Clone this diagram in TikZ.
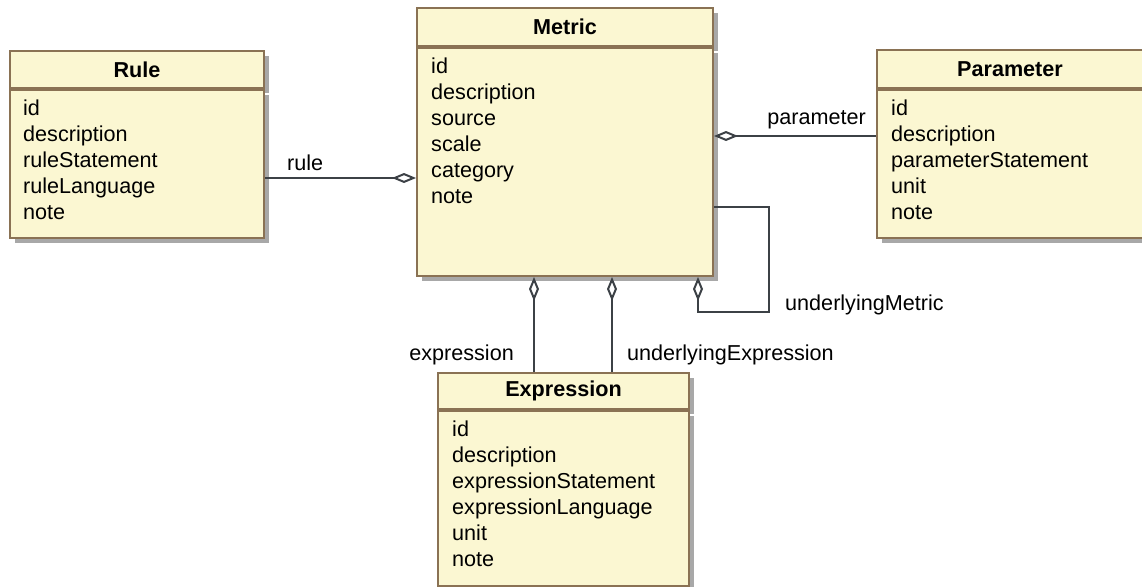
\documentclass[tikz,border=0pt]{standalone}
\usepackage{fontspec}
\setmainfont{Liberation Sans}
\usepackage{tikz}
\usetikzlibrary{arrows.meta,positioning,shadows}
\definecolor{classfill}{HTML}{FBF7D2}
\definecolor{classline}{HTML}{8A7254}
\definecolor{classshadow}{HTML}{A8A8A8}
\definecolor{assocline}{HTML}{3C4146}
\tikzstyle{classname} = [rectangle, anchor=north west, draw=classline, fill=classfill, line width=2pt, minimum height=37pt, inner sep=0pt, font=\fontsize{21.6}{26}\selectfont\bfseries, drop shadow={shadow xshift=5pt, shadow yshift=-5pt, fill=classshadow, opacity=1}]
\tikzstyle{classbody} = [rectangle, draw=classline, fill=classfill, line width=2pt, inner sep=0pt, drop shadow={shadow xshift=5pt, shadow yshift=-5pt, fill=classshadow, opacity=1}]
\tikzstyle{attrs} = [anchor=north west, align=left, inner sep=0pt, font=\fontsize{21.6}{26}\selectfont]
\tikzstyle{role} = [inner sep=0pt, font=\fontsize{21.6}{26}\selectfont]
\tikzstyle{assoc} = [line width=2.6pt, draw=assocline, {Diamond[length=24pt,width=10pt,fill=white,line width=2pt]}-]

\begin{document}
\begin{tikzpicture}[x=1pt, y=1pt]
\useasboundingbox (0,0) rectangle (1142,-586);

% classes
\node (metric) [classname, minimum width=296pt, minimum height=38pt] at (416,-7) {Metric};
\node (metric_body) [classbody, minimum width=296pt, minimum height=228pt, below=0pt of metric] {};
\node (metric_attr) [attrs] at ([xshift=15pt,yshift=-11pt]metric_body.north west) {id\\description\\source\\scale\\category\\note};

\node (rule) [classname, minimum width=254pt] at (9,-50) {Rule};
\node (rule_body) [classbody, minimum width=254pt, minimum height=148pt, below=0pt of rule] {};
\node (rule_attr) [attrs] at ([xshift=14pt,yshift=-11pt]rule_body.north west) {id\\description\\ruleStatement\\ruleLanguage\\note};

\node (parameter) [classname, minimum width=276pt, minimum height=38pt] at (876,-49) {\hspace*{-10pt}Parameter};
\node (parameter_body) [classbody, minimum width=276pt, minimum height=148pt, below=0pt of parameter] {};
\node (parameter_attr) [attrs] at ([xshift=15pt,yshift=-11pt]parameter_body.north west) {id\\description\\parameterStatement\\unit\\note};

\node (expression) [classname, minimum width=251pt, minimum height=36pt] at (437,-372) {Expression};
\node (expression_body) [classbody, minimum width=251pt, minimum height=175pt, below=0pt of expression] {};
\node (expression_attr) [attrs] at ([xshift=15pt,yshift=-11pt]expression_body.north west) {id\\description\\expressionStatement\\expressionLanguage\\unit\\note};

% associations
\coordinate (rule_end) at ([yshift=-14pt]rule_body.east);
\draw [assoc] (metric_body.west |- rule_end) -- (rule_end);
\node [role, anchor=base west] at ([xshift=22pt,yshift=8pt]rule_end) {rule};

\coordinate (parameter_end) at ([yshift=28pt]parameter_body.west);
\draw [assoc] (metric_body.east |- parameter_end) -- (parameter_end);
\node [role, anchor=base east] at ([xshift=-10pt,yshift=11.5pt]parameter_end) {parameter};

\coordinate (expr_end) at ([xshift=-29.5pt]expression.north);
\draw [assoc] (metric_body.south -| expr_end) -- (expr_end);
\node [role, anchor=base east] at ([xshift=-20pt,yshift=12pt]expr_end) {expression};

\coordinate (uexpr_end) at ([xshift=48.5pt]expression.north);
\draw [assoc] (metric_body.south -| uexpr_end) -- (uexpr_end);
\node [role, anchor=base west] at ([xshift=15pt,yshift=12pt]uexpr_end) {underlyingExpression};

\coordinate (self_end) at ([yshift=-45pt]metric_body.east);
\draw [assoc] ([xshift=133pt]metric_body.south) -- ++(0,-35pt) -| ([xshift=55pt]self_end) -- (self_end);
\node [role, anchor=base west] at ([xshift=71pt,yshift=-103pt]self_end) {underlyingMetric};

\end{tikzpicture}
\end{document}
